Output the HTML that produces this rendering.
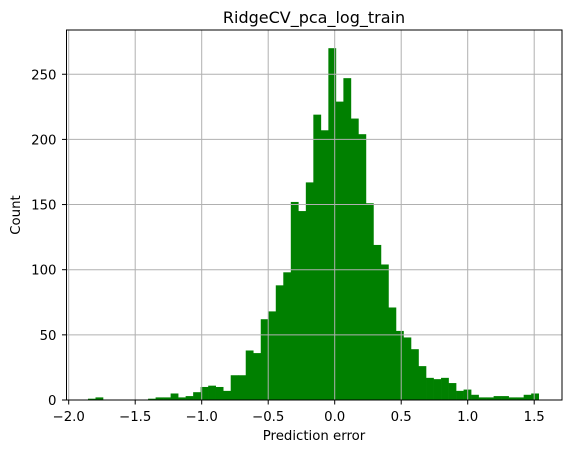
<!DOCTYPE html>
<html><head><meta charset="utf-8"><style>
body{margin:0;background:#fff;}
svg text{font-family:"DejaVu Sans","Liberation Sans",sans-serif;fill:#000;}
</style></head><body>
<svg id="chart" width="575" height="453" xmlns="http://www.w3.org/2000/svg">
<rect width="575" height="453" fill="#fff"/>
<g id="bars"></g>
<g id="grid"></g>
<g id="axes"></g>
<text x="314" y="23" font-size="16" text-anchor="middle">RidgeCV_pca_log_train</text>
<text x="314" y="440" font-size="13.3" text-anchor="middle">Prediction error</text>
<text x="20" y="215" font-size="13.3" text-anchor="middle" transform="rotate(-90 20 215)">Count</text>
</svg>
<script>
const counts=[1,2,0,0,0,0,0,0,1,2,2,5,2,3,6,10,11,10,7,19,19,38,36,62,68,88,98,152,145,167,219,207,270,229,247,216,204,151,119,104,71,53,48,39,26,17,16,17,13,7,8,4,2,2,3,3,2,2,4,5];
const binStart=-1.855;
const binWidth=0.05648;
const xTicks=[-2.0,-1.5,-1.0,-0.5,0.0,0.5,1.0,1.5];
const xTickLabels=["−2.0","−1.5","−1.0","−0.5","0.0","0.5","1.0","1.5"];
const yTicks=[0,50,100,150,200,250];

const L=66.5,R=562,T=30,B=400;
function xs(v){return 334.7+v*133;}
function ys(c){return 400-c*1.303;}
const NS="http://www.w3.org/2000/svg";
function mk(tag,attrs,parent){const e=document.createElementNS(NS,tag);for(const k in attrs)e.setAttribute(k,attrs[k]);parent.appendChild(e);return e;}
const bars=document.getElementById('bars');
counts.forEach((c,i)=>{
  if(c<=0)return;
  const x0=xs(binStart+i*binWidth),x1=xs(binStart+(i+1)*binWidth);
  const r=mk('rect',{x:x0,y:ys(c),width:x1-x0+0.3,height:ys(0)-ys(c),fill:'#008000'},bars);
  
  
});
const grid=document.getElementById('grid');
const axes=document.getElementById('axes');
xTicks.forEach((v,i)=>{
  const x=xs(v);
  const g=mk('line',{x1:x,x2:x,y1:T,y2:B,stroke:'#b0b0b0','stroke-width':1},grid);
  
  
  const t=mk('line',{x1:x,x2:x,y1:B,y2:B+4.5,stroke:'#000','stroke-width':1},axes);
  
  
  const lb=mk('text',{x:x,y:B+21,'font-size':13.3,'text-anchor':'middle'},axes);
  lb.textContent=xTickLabels[i];
  
  
});
yTicks.forEach(v=>{
  const y=ys(v);
  const g=mk('line',{x1:L,x2:R,y1:y,y2:y,stroke:'#b0b0b0','stroke-width':1},grid);
  
  
  const t=mk('line',{x1:L-4.5,x2:L,y1:y,y2:y,stroke:'#000','stroke-width':1},axes);
  
  
  const lb=mk('text',{x:L-10,y:y+5,'font-size':13.3,'text-anchor':'end'},axes);
  lb.textContent=v;
  
  
});
const frame=mk('rect',{x:L,y:T,width:R-L,height:B-T,fill:'none',stroke:'#000','stroke-width':1},axes);


</script>
</body></html>
